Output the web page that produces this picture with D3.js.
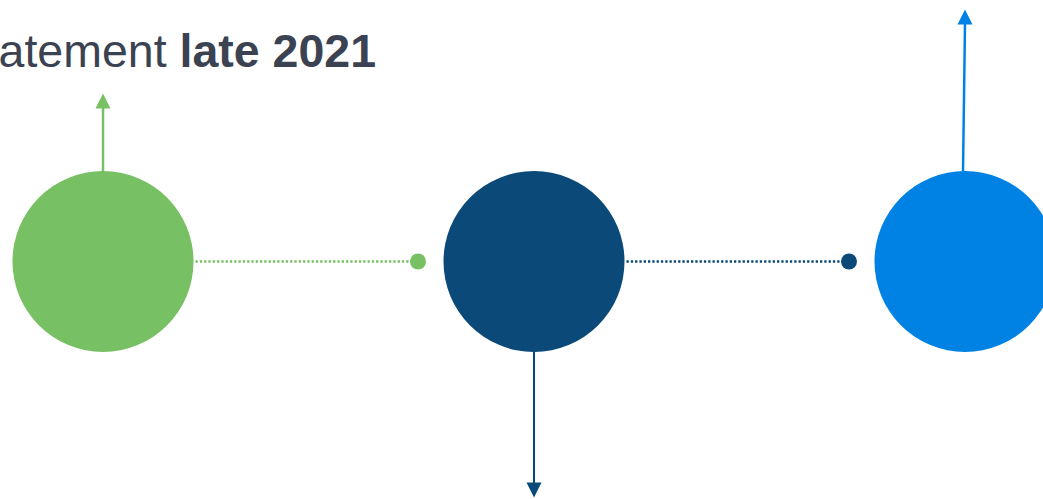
<!DOCTYPE html>
<html>
<head>
<meta charset="utf-8">
<script src="https://cdn.jsdelivr.net/npm/d3@7"></script>
<style>
  html, body { margin: 0; padding: 0; background: #fff; overflow: hidden; }
  svg { display: block; }
</style>
</head>
<body>
<svg id="timeline" width="1043" height="499"></svg>
<script>
// stages along the timeline
var stages = ["stage1", "stage2", "stage3"];
var stageColors = ["#77C063", "#0B4A78", "#0082E4"];
// arrow direction and reach (in timeline units, 0 = centre line)
var arrowDir = ["up", "down", "up"];
var arrowReach = [168, 236, 252];
// connector dots between stages
var connectorFrom = [0, 1];
var titleRegular = "statement ";
var titleBold = "late 2021";

var svg = d3.select("#timeline"),
  width = +svg.attr("width"),
  height = +svg.attr("height"),
  cy = 261.5,
  bigR = 90.5,
  smallR = 8;

var x = d3.scalePoint()
  .domain(d3.range(stages.length))
  .range([103, 965]);

// vertical offset scale (offset from centre line -> pixel)
var y = d3.scaleLinear()
  .domain([-300, 300])
  .range([cy - 300, cy + 300]);

var step = x.step();

// dotted connectors
var conn = svg.append("g").attr("class", "connectors");
conn.selectAll("line")
  .data(connectorFrom)
  .enter().append("line")
  .attr("x1", function (d) { return x(d) + bigR + 2; })
  .attr("x2", function (d) { return x(d) + step - bigR - 25.5; })
  .attr("y1", y(0))
  .attr("y2", y(0))
  .attr("stroke", function (d) { return stageColors[d]; })
  .attr("stroke-width", 2.5)
  .attr("stroke-dasharray", "2.3 2");

conn.selectAll("circle")
  .data(connectorFrom)
  .enter().append("circle")
  .attr("cx", function (d) { return x(d) + step - bigR - 25.5; })
  .attr("cy", y(0))
  .attr("r", smallR)
  .attr("fill", function (d) { return stageColors[d]; });

// arrows
var arrows = svg.append("g").attr("class", "arrows");
var ag = arrows.selectAll("g")
  .data(stages.map(function (s, i) { return i; }))
  .enter().append("g");

ag.append("line")
  .attr("x1", function (d) { return d === 2 ? x(d) - 2 : x(d); })
  .attr("x2", function (d) { return x(d); })
  .attr("y1", function (d) { return arrowDir[d] === "up" ? y(-bigR + 1) : y(bigR - 1); })
  .attr("y2", function (d) {
    var r = arrowReach[d] - 14;
    return arrowDir[d] === "up" ? y(-r) : y(r);
  })
  .attr("stroke", function (d) { return stageColors[d]; })
  .attr("stroke-width", function (d) { return d === 1 ? 2 : 2.5; });

ag.append("path")
  .attr("d", function (d) {
    var s = arrowDir[d] === "up" ? -1 : 1;
    var tip = y(s * arrowReach[d]);
    var base = y(s * (arrowReach[d] - 15));
    var cx = x(d);
    return "M" + (cx - 7.5) + "," + base + "L" + cx + "," + tip + "L" + (cx + 7.5) + "," + base + "Z";
  })
  .attr("fill", function (d) { return stageColors[d]; });

// big circles
svg.append("g").attr("class", "stages")
  .selectAll("circle")
  .data(stages)
  .enter().append("circle")
  .attr("cx", function (d, i) { return x(i); })
  .attr("cy", y(0))
  .attr("r", bigR)
  .attr("fill", function (d, i) { return stageColors[i]; });

// title (left part runs off the page, as in the source slide)
var title = svg.append("text")
  .attr("x", 376)
  .attr("y", 67)
  .attr("text-anchor", "end")
  .attr("font-family", "Liberation Sans, Arial, sans-serif")
  .attr("font-size", 46.5)
  .attr("fill", "#3B4352");
title.append("tspan").text(titleRegular);
title.append("tspan").attr("font-weight", "bold").text(titleBold);
</script>
</body>
</html>
